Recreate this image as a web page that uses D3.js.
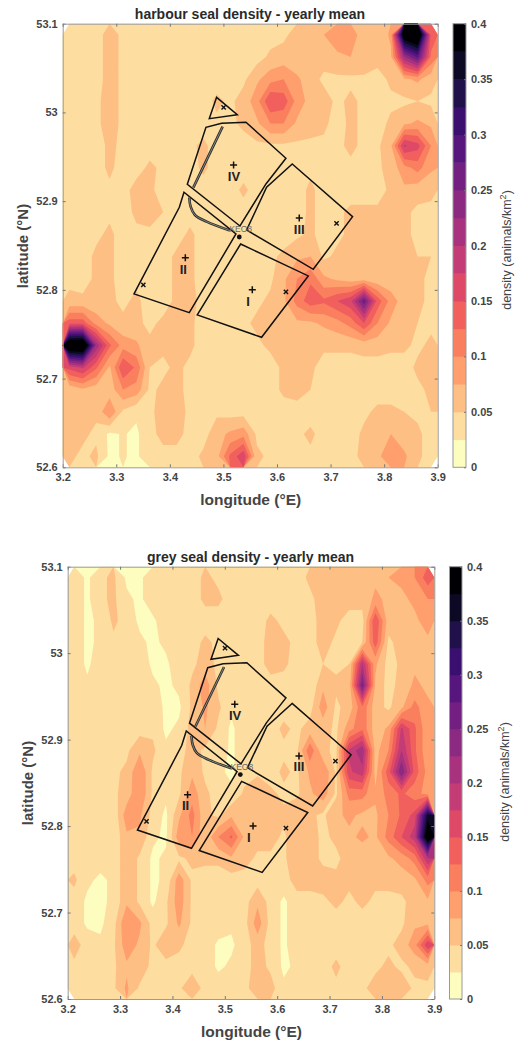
<!DOCTYPE html>
<html>
<head>
<meta charset="utf-8">
<script src="https://cdn.jsdelivr.net/npm/d3@7"></script>
<style>
  html, body { margin: 0; padding: 0; background: #fff; }
  svg { display: block; }
  text { font-family: "Liberation Sans", Arial, sans-serif; }
</style>
</head>
<body>
<div id="chart"></div>
<script>
// grid cells are 0.025 deg, rows run north to south, columns west to east
const lonStart = 3.2, latStart = 53.1, cellDeg = 0.025;
const lonTicks = [3.2, 3.3, 3.4, 3.5, 3.6, 3.7, 3.8, 3.9];
const latTicks = [52.6, 52.7, 52.8, 52.9, 53, 53.1];
const barTicks = [0, 0.05, 0.1, 0.15, 0.2, 0.25, 0.3, 0.35, 0.4];

const harbourRows = [
  [.04,.04,.04,.06,.045,.04,.04, .04,.04,.04,.04,.04,.04,.04, .04,.04,.045,.06,.065,.075,.09, .085,.065,.055,.08,.42,.46,.14],
  [.04,.04,.04,.06,.045,.04,.04, .04,.04,.04,.04,.04,.04,.04, .04,.055,.06,.055,.055,.06,.07, .075,.07,.06,.07,.22,.28,.12],
  [.045,.04,.04,.06,.045,.04,.04, .04,.04,.04,.04,.04,.04,.045, .07,.09,.1,.08,.06,.045,.045, .045,.045,.04,.055,.07,.08,.06],
  [.04,.04,.045,.06,.045,.04,.04, .04,.04,.04,.04,.055,.045,.06, .09,.15,.14,.09,.065,.06,.045, .055,.045,.04,.045,.045,.05,.045],
  [.04,.04,.045,.06,.045,.04,.04, .04,.04,.04,.04,.045,.045,.055, .07,.1,.1,.07,.06,.055,.04, .055,.045,.04,.055,.07,.08,.07],
  [.04,.04,.04,.055,.045,.04,.04, .04,.04,.045,.055,.04,.04,.04, .045,.045,.045,.045,.045,.045,.045, .055,.045,.045,.07,.18,.16,.1],
  [.04,.045,.04,.055,.04,.04,.055, .045,.04,.04,.055,.04,.04,.04, .04,.04,.04,.04,.045,.045,.04, .045,.04,.045,.06,.09,.11,.08],
  [.04,.045,.04,.045,.04,.06,.055, .04,.04,.04,.04,.04,.04,.055, .04,.04,.04,.04,.055,.04,.045, .04,.04,.04,.055,.07,.06,.055],
  [.04,.04,.045,.045,.04,.055,.06, .05,.04,.04,.04,.04,.04,.04, .04,.04,.04,.04,.055,.04,.045, .055,.055,.055,.055,.055,.045,.045],
  [.045,.04,.045,.055,.04,.045,.045, .045,.04,.055,.04,.04,.04,.04, .04,.04,.04,.045,.055,.04,.045, .055,.055,.055,.055,.055,.045,.045],
  [.045,.04,.055,.055,.04,.04,.045, .04,.055,.055,.04,.04,.04,.04, .04,.045,.055,.07,.075,.045,.055, .055,.055,.055,.055,.05,.05,.05],
  [.045,.04,.055,.055,.04,.045,.04, .04,.055,.055,.04,.04,.04,.04, .04,.045,.07,.1,.12,.08,.07, .06,.06,.055,.055,.055,.055,.045],
  [.055,.055,.055,.055,.045,.055,.04, .04,.055,.055,.045,.04,.04,.04, .045,.055,.07,.11,.14,.13,.15, .17,.27,.14,.09,.06,.055,.045],
  [.14,.14,.09,.07,.055,.055,.045, .055,.055,.055,.04,.04,.04,.045, .055,.055,.065,.07,.07,.08,.09, .11,.15,.1,.07,.055,.05,.045],
  [.45,.46,.22,.13,.09,.08,.055, .055,.05,.055,.04,.04,.04,.04, .045,.055,.06,.06,.06,.055,.055, .055,.06,.06,.055,.055,.045,.055],
  [.16,.18,.13,.07,.15,.12,.05, .045,.055,.045,.04,.04,.04,.04, .045,.04,.055,.055,.055,.04,.04, .04,.04,.04,.04,.04,.055,.055],
  [.055,.07,.06,.06,.1,.09,.045, .055,.055,.045,.04,.04,.04,.04, .04,.04,.055,.055,.05,.04,.04, .04,.04,.04,.04,.04,.045,.055],
  [.055,.055,.055,.1,.045,.03,.045, .06,.06,.045,.04,.045,.04,.04, .04,.04,.04,.045,.04,.04,.04, .04,.045,.055,.055,.05,.045,.05],
  [.055,.055,.045,.02,.027,.02,.045, .055,.055,.045,.04,.065,.08,.09, .045,.04,.045,.045,.055,.04,.04, .04,.055,.065,.075,.06,.055,.04],
  [.055,.045,.055,.02,.027,.02,.045, .045,.045,.04,.055,.065,.13,.17, .055,.045,.045,.04,.045,.04,.04, .04,.06,.07,.09,.08,.055,.04]
];

const greyRows = [
  [.04,.02,.045,.055,.02,.02,.04, .045,.045,.04,.055,.045,.04,.04, .04,.04,.04,.04,.055,.06,.06, .06,.06,.07,.075,.08,.1,.14],
  [.04,.02,.045,.055,.03,.02,.04, .04,.04,.04,.055,.055,.04,.04, .04,.04,.04,.04,.045,.06,.06, .06,.06,.08,.07,.07,.08,.1],
  [.04,.02,.03,.055,.04,.02,.02, .04,.04,.04,.04,.04,.04,.04, .04,.055,.045,.04,.04,.06,.055, .04,.04,.15,.06,.06,.07,.085],
  [.04,.02,.03,.045,.045,.03,.02, .03,.04,.04,.055,.045,.03,.04, .04,.06,.055,.045,.04,.06,.045, .045,.05,.14,.045,.06,.07,.07],
  [.04,.02,.04,.045,.045,.04,.02, .02,.04,.045,.06,.045,.04,.04, .04,.06,.055,.04,.03,.05,.045, .05,.2,.08,.04,.055,.07,.06],
  [.04,.03,.04,.045,.045,.04,.03, .02,.03,.055,.09,.045,.04,.04, .04,.04,.04,.04,.03,.07,.055, .06,.26,.07,.04,.06,.08,.07],
  [.04,.04,.04,.045,.045,.04,.04, .02,.02,.055,.08,.055,.03,.04, .04,.04,.04,.04,.04,.09,.045, .06,.12,.06,.045,.07,.11,.08],
  [.04,.04,.04,.045,.04,.04,.045, .02,.03,.06,.075,.045,.02,.04, .04,.04,.055,.045,.06,.06,.045, .09,.12,.06,.08,.18,.13,.08],
  [.04,.04,.04,.045,.045,.07,.055, .03,.04,.06,.045,.04,.02,.04, .04,.04,.045,.045,.12,.055,.045, .18,.22,.065,.1,.2,.13,.08],
  [.04,.04,.04,.045,.055,.1,.045, .03,.045,.07,.045,.03,.02,.04, .045,.04,.055,.045,.08,.1,.045, .17,.19,.065,.14,.25,.14,.09],
  [.04,.045,.04,.045,.06,.1,.045, .03,.045,.09,.055,.04,.03,.055, .07,.055,.045,.045,.07,.09,.045, .11,.11,.08,.11,.13,.11,.09],
  [.045,.045,.04,.03,.09,.08,.04, .02,.07,.11,.055,.045,.07,.07, .06,.06,.055,.07,.055,.045,.07, .08,.07,.07,.1,.13,.16,.36],
  [.045,.04,.04,.03,.07,.07,.03, .02,.09,.1,.055,.1,.13,.07, .06,.06,.045,.07,.06,.045,.055, .07,.08,.07,.11,.15,.19,.42],
  [.04,.045,.035,.03,.07,.045,.02, .03,.045,.055,.055,.055,.07,.06, .045,.045,.045,.07,.06,.045,.045, .06,.06,.06,.07,.085,.11,.2],
  [.055,.03,.02,.03,.07,.045,.02, .03,.09,.045,.04,.04,.04,.04, .04,.04,.04,.06,.06,.06,.055, .055,.06,.055,.055,.06,.07,.11],
  [.04,.02,.02,.03,.07,.045,.02, .045,.09,.045,.04,.04,.03,.04, .07,.04,.02,.04,.04,.045,.055, .045,.055,.045,.045,.045,.06,.07],
  [.04,.02,.02,.04,.1,.08,.04, .045,.08,.045,.04,.04,.03,.04, .09,.04,.02,.04,.04,.04,.04, .04,.04,.045,.045,.045,.07,.07],
  [.06,.04,.03,.045,.09,.07,.045, .07,.055,.04,.04,.02,.02,.04, .06,.04,.02,.04,.04,.04,.04, .04,.04,.04,.045,.06,.09,.17],
  [.045,.04,.04,.045,.07,.07,.04, .04,.04,.04,.04,.02,.03,.04, .06,.045,.02,.03,.04,.04,.055, .04,.045,.045,.055,.045,.055,.06],
  [.04,.04,.045,.045,.08,.045,.04, .04,.045,.07,.04,.04,.04,.04, .07,.06,.03,.03,.04,.04,.045, .045,.045,.06,.07,.065,.045,.045]
];

// wind farm zones as [lon, lat]
const zoneOutlines = [
  [[3.4873,53.0170],[3.5259,52.9975],[3.4736,52.9930]],
  [[3.4326,52.9190],[3.4674,52.9832],[3.4967,52.9877],[3.5421,52.9889],[3.6167,52.9483],[3.5794,52.9194],[3.5309,52.8720]],
  [[3.6285,52.9419],[3.7411,52.8825],[3.6677,52.8232],[3.5433,52.8675],[3.5806,52.9156]],
  [[3.4264,52.9100],[3.4177,52.8931],[3.3331,52.7954],[3.4363,52.7743],[3.5234,52.8630]],
  [[3.5321,52.8517],[3.6584,52.8157],[3.5713,52.7465],[3.4512,52.7717]]
];
const cableLines = [
  [[3.4438,52.9152],[3.4985,52.9840]],
  [[3.4363,52.9043],[3.4388,52.8938],[3.4469,52.8844],[3.4687,52.8769],[3.5122,52.8668]]
];
const plusMarks = [[3.5190,52.9408],[3.6416,52.8810],[3.4289,52.8363],[3.5539,52.8000]];
const crossMarks = [[3.5004,53.0058],[3.7112,52.8750],[3.3505,52.8055],[3.6167,52.7976]];
const zoneLabels = ["IV", "III", "II", "I"];
const zoneLabelPos = [[3.5197,52.9275],[3.6416,52.8685],[3.4251,52.8234],[3.5458,52.7866]];
const keoPoint = [3.5296,52.8596];

const nCols = 28, nRows = 20;
const levelEdges = d3.range(16).map(i => i * 0.025);
const levelColor = i => d3.interpolateMagma(1 - i / 15);
const axisGrey = "#9a9a9a", textGrey = "#444";

const svg = d3.select("#chart").append("svg").attr("width", 515).attr("height", 1042);

function drawPanel(p) {
  const x = d3.scaleLinear().domain([3.2, 3.9]).range([p.left, p.right]);
  const y = d3.scaleLinear().domain([52.6, 53.1]).range([p.bottom, p.top]);
  const g = svg.append("g");

  var flat = p.rows.flat();
  if (flat.length != nCols * nRows) throw new Error("bad grid " + flat.length);

  // filled contours, one layer per colour band
  const project = d3.geoTransform({
    point: function (gx, gy) {
      this.stream.point(x(lonStart + gx * cellDeg), y(latStart - gy * cellDeg));
    },
  });
  const contours = d3.contours().size([nCols, nRows]).thresholds(levelEdges)(flat);
  g.append("g")
    .selectAll("path")
    .data(contours)
    .enter()
    .append("path")
    .attr("d", d3.geoPath(project))
    .attr("fill", (d, i) => levelColor(i));

  // axes, ticks point inward on all four sides
  const fmt = d => String(+d.toFixed(1));
  const styleAxis = a => {
    a.selectAll(".domain").attr("stroke", axisGrey);
    a.selectAll(".tick line").attr("stroke", "#777");
    a.selectAll("text").attr("fill", textGrey).attr("font-size", 11).attr("font-weight", "bold");
  };
  g.append("g").attr("transform", `translate(0,${p.bottom})`)
    .call(d3.axisBottom(x).tickValues(lonTicks).tickFormat(fmt).tickSizeInner(-3).tickSizeOuter(0).tickPadding(6))
    .call(styleAxis);
  g.append("g").attr("transform", `translate(${p.left},0)`)
    .call(d3.axisLeft(y).tickValues(latTicks).tickFormat(fmt).tickSizeInner(-3).tickSizeOuter(0).tickPadding(5))
    .call(styleAxis);
  g.append("g").attr("transform", `translate(0,${p.top})`)
    .call(d3.axisTop(x).tickValues(lonTicks).tickFormat("").tickSizeInner(-3).tickSizeOuter(0))
    .call(styleAxis);
  g.append("g").attr("transform", `translate(${p.right},0)`)
    .call(d3.axisRight(y).tickValues(latTicks).tickFormat("").tickSizeInner(-3).tickSizeOuter(0))
    .call(styleAxis);

  // zones
  const line = d3.line().x(d => x(d[0])).y(d => y(d[1]));
  g.append("g")
    .selectAll("path")
    .data(zoneOutlines)
    .enter()
    .append("path")
    .attr("d", d => line(d) + "Z")
    .attr("fill", "none")
    .attr("stroke", "#111")
    .attr("stroke-width", 1.5)
    .attr("stroke-linejoin", "miter");

  const cable = d3.line().x(d => x(d[0])).y(d => y(d[1])).curve(d3.curveCatmullRom);
  [[2.6, "#2b2b2b"], [0.8, "#9c9c8c"]].forEach(s => {
    g.append("g")
      .selectAll("path")
      .data(cableLines)
      .enter()
      .append("path")
      .attr("d", cable)
      .attr("fill", "none")
      .attr("stroke", s[1])
      .attr("stroke-width", s[0]);
  });

  // turbine / centre markers
  g.selectAll("path.plus")
    .data(plusMarks)
    .enter()
    .append("path")
    .attr("class", "plus")
    .attr("d", "M-3.5,0H3.5M0,-3.5V3.5")
    .attr("transform", d => `translate(${x(d[0])},${y(d[1])})`)
    .attr("stroke", "#111")
    .attr("stroke-width", 1.5);
  g.selectAll("path.cross")
    .data(crossMarks)
    .enter()
    .append("path")
    .attr("class", "cross")
    .attr("d", "M-3,0H3M0,-3V3")
    .attr("transform", d => `translate(${x(d[0])},${y(d[1])}) rotate(45)`)
    .attr("stroke", "#111")
    .attr("stroke-width", 1.4);
  g.selectAll("text.zone")
    .data(zoneLabels)
    .enter()
    .append("text")
    .attr("class", "zone")
    .attr("x", (d, i) => x(zoneLabelPos[i][0]))
    .attr("y", (d, i) => y(zoneLabelPos[i][1]))
    .attr("text-anchor", "middle")
    .attr("dy", "0.35em")
    .attr("font-size", 13)
    .attr("font-weight", "bold")
    .attr("fill", "#222")
    .text(d => d);
  g.append("circle")
    .attr("cx", x(keoPoint[0]))
    .attr("cy", y(keoPoint[1]))
    .attr("r", 2.4)
    .attr("fill", "#111");
  g.append("text")
    .attr("x", x(keoPoint[0]) + 1.5)
    .attr("y", y(keoPoint[1]) - 5)
    .attr("text-anchor", "middle")
    .attr("font-size", 8.5)
    .attr("fill", "#666")
    .text("KEO8");

  // titles
  g.append("text")
    .attr("x", p.titleX)
    .attr("y", p.titleY)
    .attr("text-anchor", "middle")
    .attr("font-size", p.titleSize)
    .attr("font-weight", "bold")
    .attr("fill", "#2a2a2a")
    .text(p.title);
  g.append("text")
    .attr("x", (p.left + p.right) / 2 + 0.5)
    .attr("y", p.bottom + 38)
    .attr("text-anchor", "middle")
    .attr("font-size", 15.5)
    .attr("font-weight", "bold")
    .attr("fill", textGrey)
    .text("longitude (°E)");
  g.append("text")
    .attr("transform", `translate(${p.latX},${p.latY}) rotate(-90)`)
    .attr("text-anchor", "middle")
    .attr("font-size", 15)
    .attr("font-weight", "bold")
    .attr("fill", textGrey)
    .text("latitude (°N)");

  // colour bar
  const bar = d3.scaleLinear().domain([0, 0.4]).range([p.bottom, p.top]);
  g.append("g")
    .selectAll("rect")
    .data(levelEdges)
    .enter()
    .append("rect")
    .attr("x", p.barLeft)
    .attr("width", p.barRight - p.barLeft)
    .attr("y", d => bar(d + 0.025))
    .attr("height", d => bar(d) - bar(d + 0.025) + 0.5)
    .attr("fill", (d, i) => levelColor(i));
  g.append("rect")
    .attr("x", p.barLeft)
    .attr("y", p.top)
    .attr("width", p.barRight - p.barLeft)
    .attr("height", p.bottom - p.top)
    .attr("fill", "none")
    .attr("stroke", axisGrey);
  g.append("g").attr("transform", `translate(${p.barRight},0)`)
    .call(d3.axisRight(bar).tickValues(barTicks).tickFormat(d => String(+d.toFixed(2))).tickSizeInner(-2).tickSizeOuter(0).tickPadding(5))
    .call(styleAxis)
    .call(a => a.select(".domain").remove());

  const unit = g.append("text")
    .attr("transform", `translate(${p.unitX},${p.unitY}) rotate(-90)`)
    .attr("text-anchor", "middle")
    .attr("font-size", 12.5)
    .attr("fill", textGrey);
  unit.append("tspan").text("density (animals/km");
  unit.append("tspan").attr("dy", -5).attr("font-size", 9).text("2");
  unit.append("tspan").attr("dy", 5).text(")");
}

drawPanel({
  title: "harbour seal density - yearly mean", rows: harbourRows,
  left: 62.7, right: 437.7, top: 23.7, bottom: 467.3,
  barLeft: 453, barRight: 466,
  titleX: 250, titleY: 18.5, titleSize: 14,
  latX: 28, latY: 246, unitX: 511, unitY: 250,
});
drawPanel({
  title: "grey seal density - yearly mean", rows: greyRows,
  left: 67.7, right: 434.3, top: 566.7, bottom: 999,
  barLeft: 449.5, barRight: 462,
  titleX: 250.5, titleY: 562, titleSize: 14,
  latX: 33, latY: 783, unitX: 509, unitY: 782,
});
</script>
</body>
</html>
